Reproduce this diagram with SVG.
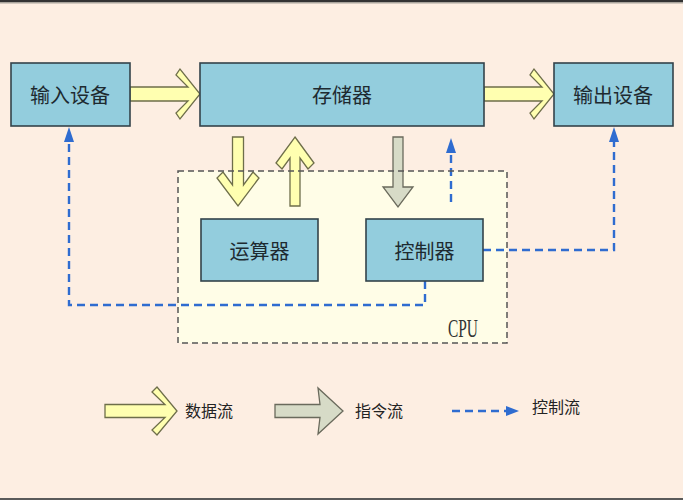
<svg xmlns="http://www.w3.org/2000/svg" width="683" height="500" viewBox="0 0 683 500">
<style>
.box{fill:#93CDDD;stroke:#34434A;stroke-width:1.6}
.lbl{font-family:"Noto Sans CJK SC","Noto Sans",sans-serif;font-size:20px;fill:#1E2A30;text-anchor:middle;dominant-baseline:central}
.leg{font-family:"Noto Sans CJK SC","Noto Sans",sans-serif;font-size:16px;fill:#222;dominant-baseline:central}
.ya{fill:#FFFFB0;stroke:#6E6E4A;stroke-width:1.3;stroke-linejoin:miter}
.ga{fill:#D7DBC7;stroke:#6A6A5C;stroke-width:1.3}
.ctl{fill:none;stroke:#2F6CD0;stroke-width:2.4;stroke-dasharray:8 5}
.ah{fill:#2F6CD0}
</style>
<rect x="0" y="0" width="683" height="500" fill="#FDEEE2"/>
<rect x="0" y="0" width="683" height="2" fill="#333"/>
<rect x="0" y="2" width="683" height="1.5" fill="#A9A49C"/>
<rect x="0" y="498" width="683" height="2" fill="#5A5A5A"/>

<g id="cpu">
<rect x="178" y="171" width="329" height="172" fill="#FFFDE7"/>
</g>

<g id="connectors">
<polygon class="ya" points="130,87 188,87 176,75 180,69 200,94 180,119 176,113 188,101 130,101"/>
<polygon class="ya" points="484,87 542,87 530,75 534,69 554,94 534,119 530,113 542,101 484,101"/>
<polygon class="ya" points="232.5,137 243.5,137 243.5,185 253,172 259,178 238,206 217,178 223,172 232.5,185"/>
<polygon class="ya" points="295,137 314,163 308,169 300,158 300,206 290,206 290,158 282,169 276,163"/>
<polygon class="ga" points="393,137 403,137 403,187 413,187 398,207 383,187 393,187"/>
<path class="ctl" d="M425,281 V305 H69 V141"/>
<polygon class="ah" points="69,127 74,142 64,142"/>
<path class="ctl" d="M483,250 H614 V141"/>
<polygon class="ah" points="614,127 619,142 609,142"/>
<path class="ctl" d="M451,202 V152"/>
<polygon class="ah" points="451,138 456,153 446,153"/>
</g>

<g id="cpu-border">
<rect x="178" y="171" width="329" height="172" fill="none" stroke="#555" stroke-width="1.5" stroke-dasharray="6 4"/>
<text x="448" y="337" font-family="Liberation Serif,serif" font-size="26" fill="#333" textLength="30" lengthAdjust="spacingAndGlyphs">CPU</text>
</g>

<g id="input">
<rect class="box" x="11" y="63" width="119" height="63"/>
<text class="lbl" x="70" y="94">输入设备</text>
</g>
<g id="memory">
<rect class="box" x="200" y="63" width="284" height="63"/>
<text class="lbl" x="342" y="94">存储器</text>
</g>
<g id="output">
<rect class="box" x="554" y="63" width="119" height="63"/>
<text class="lbl" x="613" y="94">输出设备</text>
</g>
<g id="alu">
<rect class="box" x="201" y="219" width="117" height="62"/>
<text class="lbl" x="259.5" y="250">运算器</text>
</g>
<g id="controller">
<rect class="box" x="366" y="219" width="117" height="62"/>
<text class="lbl" x="424.5" y="250">控制器</text>
</g>

<g id="legend">
<polygon class="ya" points="105,404.5 165,404.5 152,392 157,387 177,411 157,435 152,430 165,417.5 105,417.5"/>
<text class="leg" x="185" y="410">数据流</text>
<polygon class="ga" points="275,404.5 320,404.5 318,388 343,411 318,434 320,417.5 275,417.5"/>
<text class="leg" x="355" y="410">指令流</text>
<path class="ctl" d="M452,411 H507"/>
<polygon class="ah" points="519,411 506,416 506,406"/>
<text class="leg" x="532" y="406">控制流</text>
</g>
</svg>
